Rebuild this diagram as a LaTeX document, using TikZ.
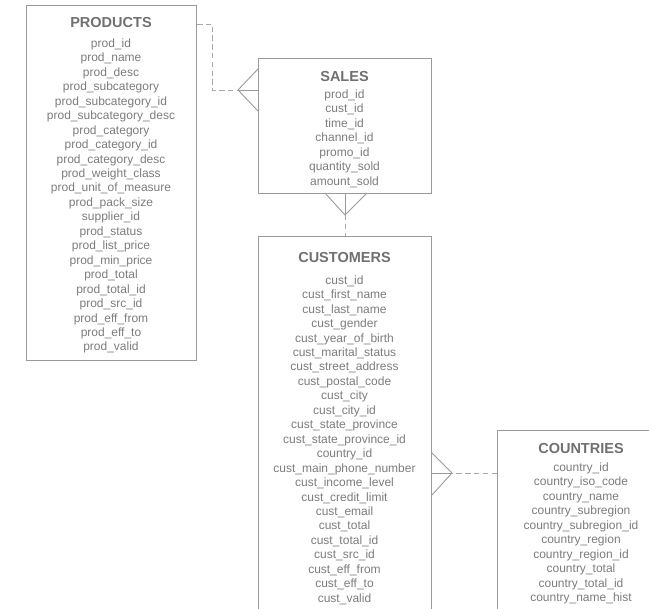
\documentclass[tikz,border=0pt]{standalone}
\usepackage{fontspec}
\setmainfont{Liberation Sans}
\definecolor{edgegray}{HTML}{9A9A9A}
\definecolor{dashgray}{HTML}{A8A8A8}
\definecolor{fieldgray}{HTML}{7C7C7C}
\definecolor{titlegray}{HTML}{707070}
\tikzset{
  tablebox/.style={draw=edgegray, line width=1pt, rectangle, inner sep=0pt, anchor=north west},
  tabletitle/.style={text=titlegray, font=\fontsize{14.5}{17}\selectfont\bfseries, inner sep=0pt, anchor=base},
  field/.style={text=fieldgray, font=\fontsize{12}{14}\selectfont, inner sep=0pt, anchor=base},
  relline/.style={draw=edgegray, line width=0.9pt},
  reldash/.style={draw=dashgray, line width=0.9pt, dash pattern=on 5.5pt off 3.3pt},
}
% one field name per line, centred on x = #2, first baseline at y = #3
\newcommand\fieldlist[4]{%
  \foreach \f [count=\i] in {#4}
    \node[field] (#1-\i) at (#2, {#3+(\i-1)*14.45}) {\f};}
\begin{document}
\begin{tikzpicture}[x=1pt, y=-1pt]
\useasboundingbox (0,0) rectangle (649,609);
\clip (0,0) rectangle (649,609);

% ---- tables ----
\node[tablebox, minimum width=170pt, minimum height=355pt] (products) at (26,5) {};
\node[tabletitle] (products-title) at (111,27.5) {PRODUCTS};
\fieldlist{products}{111}{47.5}{prod\_id, prod\_name, prod\_desc, prod\_subcategory,
  prod\_subcategory\_id, prod\_subcategory\_desc, prod\_category, prod\_category\_id,
  prod\_category\_desc, prod\_weight\_class, prod\_unit\_of\_measure, prod\_pack\_size,
  supplier\_id, prod\_status, prod\_list\_price, prod\_min\_price, prod\_total,
  prod\_total\_id, prod\_src\_id, prod\_eff\_from, prod\_eff\_to, prod\_valid}

\node[tablebox, minimum width=173pt, minimum height=135pt] (sales) at (258,58) {};
\node[tabletitle] (sales-title) at (344.5,81.5) {SALES};
\fieldlist{sales}{344.5}{98.5}{prod\_id, cust\_id, time\_id, channel\_id, promo\_id,
  quantity\_sold, amount\_sold}

\node[tablebox, minimum width=173pt, minimum height=400pt] (customers) at (258,236) {};
\node[tabletitle] (customers-title) at (344.5,263) {CUSTOMERS};
\fieldlist{customers}{344.5}{284.3}{cust\_id, cust\_first\_name, cust\_last\_name,
  cust\_gender, cust\_year\_of\_birth, cust\_marital\_status, cust\_street\_address,
  cust\_postal\_code, cust\_city, cust\_city\_id, cust\_state\_province,
  cust\_state\_province\_id, country\_id, cust\_main\_phone\_number, cust\_income\_level,
  cust\_credit\_limit, cust\_email, cust\_total, cust\_total\_id, cust\_src\_id,
  cust\_eff\_from, cust\_eff\_to, cust\_valid}

\node[tablebox, minimum width=168pt, minimum height=220pt] (countries) at (497,430) {};
\node[tabletitle] (countries-title) at (581,454) {COUNTRIES};
\fieldlist{countries}{581}{471.5}{country\_id, country\_iso\_code, country\_name,
  country\_subregion, country\_subregion\_id, country\_region, country\_region\_id,
  country\_total, country\_total\_id, country\_name\_hist}

% ---- relationships (crow's foot on the "many" side) ----
% PRODUCTS -> SALES
\coordinate (ps-foot) at (238,90);
\draw[reldash] (products.east |- 0,24) -| (212,90) -- (ps-foot);
\draw[relline] (sales.west |- 0,69) -- (ps-foot) -- (sales.west |- 0,111);
\draw[relline] (ps-foot) -- (sales.west |- ps-foot);

% CUSTOMERS -> SALES
\coordinate (cs-foot) at (345,215);
\draw[relline] (325,193) -- (cs-foot) -- (367,193);
\draw[relline] (cs-foot) -- (cs-foot |- sales.south);
\draw[reldash] (cs-foot) -- (cs-foot |- customers.north);

% COUNTRIES -> CUSTOMERS
\coordinate (cc-foot) at (452,473);
\draw[relline] (customers.east |- 0,453) -- (cc-foot) -- (customers.east |- 0,495);
\draw[relline] (cc-foot) -- (customers.east |- cc-foot);
\draw[reldash] (countries.west |- cc-foot) -- (cc-foot);
\end{tikzpicture}
\end{document}
